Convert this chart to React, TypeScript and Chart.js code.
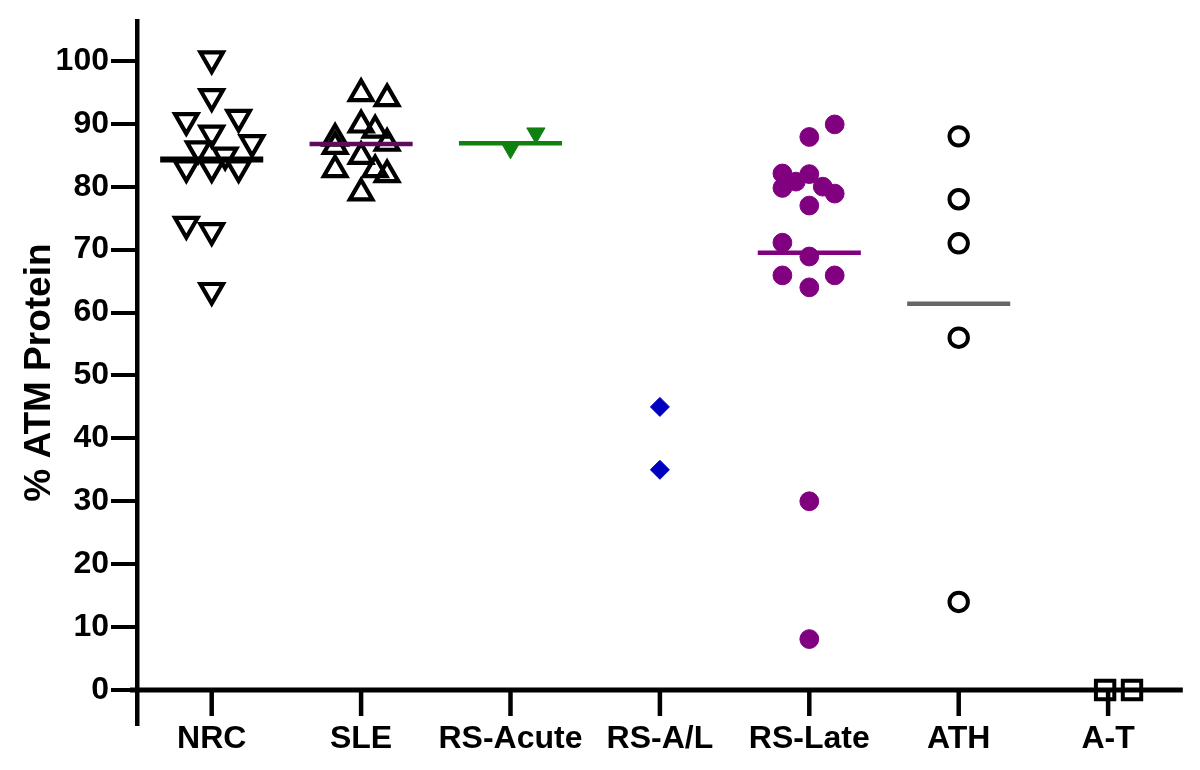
import React, { useEffect, useRef } from "react";
import { Chart, registerables } from "chart.js";

Chart.register(...registerables);

// ---- data ----
const categories = ["NRC", "SLE", "RS-Acute", "RS-A/L", "RS-Late", "ATH", "A-T"];
const yTickValues = [0, 10, 20, 30, 40, 50, 60, 70, 80, 90, 100];

const nrcValues = [100.3, 94.3, 90.5, 91, 88.5, 87, 86, 85, 83, 83, 83, 74, 73, 63.5];
const nrcJitter = [0, 0, -0.17, 0.18, 0, 0.27, -0.09, 0.09, -0.17, 0, 0.18, -0.17, 0, 0];

const sleValues = [94.8, 94.0, 89.8, 89.0, 87.7, 86.4, 86.9, 84.8, 82.7, 81.9, 82.7, 79.0];
const sleJitter = [0, 0.174, 0, 0.094, -0.174, -0.174, 0.174, 0, 0.094, 0.174, -0.174, 0];

const rsAcuteValues = [86.1, 88.5];
const rsAcuteJitter = [0, 0.17];

const rsALValues = [45, 35];
const rsALJitter = [0, 0];

const rsLateValues = [89.9, 87.9, 82.1, 82.0, 80.8, 79.8, 80.0, 78.9, 77.0, 71.1, 68.9, 65.9, 65.9, 64.0, 30.0, 8.1];
const rsLateJitter = [0.17, 0, -0.18, 0, -0.09, -0.18, 0.09, 0.17, 0, -0.18, 0, -0.18, 0.17, 0, 0, 0];

const athValues = [88, 78, 71, 56, 14];
const athJitter = [0, 0, 0, 0, 0];

const atValues = [0, 0];
const atJitter = [-0.02, 0.16];

const groupMeans = [84.3, 86.8, 86.9, null, 69.5, 61.4, null];
const meanColors = ["#000000", "#5e0b5e", "#108010", "#0000c0", "#800080", "#666666", "#000000"];

const FONT = "'Liberation Sans', Arial, Helvetica, sans-serif";

function pts(catIndex: number, values: number[], jitter: number[]) {
  return values.map((v, i) => ({ x: catIndex + 1 + jitter[i], y: v }));
}

const axesPlugin = {
  id: "prismAxes",
  beforeDatasetsDraw(chart: any) {
    const { ctx, chartArea, scales } = chart;
    const y0 = scales.y.getPixelForValue(0);
    ctx.save();
    ctx.strokeStyle = "#000";
    ctx.lineCap = "butt";
    // x axis line
    ctx.lineWidth = 5;
    ctx.beginPath();
    ctx.moveTo(chartArea.left - 7, y0);
    ctx.lineTo(chartArea.right, y0);
    ctx.stroke();
    // x tick marks
    ctx.lineWidth = 4.5;
    categories.forEach((_, i) => {
      const x = scales.x.getPixelForValue(i + 1);
      ctx.beginPath();
      ctx.moveTo(x, y0);
      ctx.lineTo(x, y0 + 26);
      ctx.stroke();
    });
    ctx.restore();
  },
};

export default function App() {
  const ref = useRef<HTMLCanvasElement | null>(null);

  useEffect(() => {
    if (!ref.current) return;

    const meanDatasets: any[] = [];
    groupMeans.forEach((m, i) => {
      if (m === null) return;
      meanDatasets.push({
        label: categories[i] + " mean",
        data: [
          { x: i + 1 - 0.345, y: m },
          { x: i + 1 + 0.345, y: m },
        ],
        showLine: true,
        borderColor: meanColors[i],
        borderWidth: i === 0 ? 6 : 4.5,
        pointRadius: 0,
        pointHoverRadius: 0,
        fill: false,
      });
    });

    const open = (color: string) => ({
      pointBorderColor: color,
      pointBackgroundColor: "rgba(0,0,0,0)",
      borderColor: color,
      backgroundColor: "rgba(0,0,0,0)",
    });

    const pointDatasets: any[] = [
      {
        label: "NRC",
        data: pts(0, nrcValues, nrcJitter),
        pointStyle: "triangle",
        pointRotation: 180,
        pointRadius: 13,
        pointHoverRadius: 13,
        pointBorderWidth: 4.2,
        ...open("#000"),
      },
      {
        label: "SLE",
        data: pts(1, sleValues, sleJitter),
        pointStyle: "triangle",
        pointRotation: 0,
        pointRadius: 13,
        pointHoverRadius: 13,
        pointBorderWidth: 4.2,
        ...open("#000"),
      },
      {
        label: "RS-Acute",
        data: pts(2, rsAcuteValues, rsAcuteJitter),
        pointStyle: "triangle",
        pointRotation: 180,
        pointRadius: 10.5,
        pointHoverRadius: 10.5,
        pointBorderWidth: 1,
        pointBorderColor: "#108010",
        pointBackgroundColor: "#108010",
      },
      {
        label: "RS-A/L",
        data: pts(3, rsALValues, rsALJitter),
        pointStyle: "rectRot",
        pointRadius: 9.5,
        pointHoverRadius: 9.5,
        pointBorderWidth: 1,
        pointBorderColor: "#0000c0",
        pointBackgroundColor: "#0000c0",
      },
      {
        label: "RS-Late",
        data: pts(4, rsLateValues, rsLateJitter),
        pointStyle: "circle",
        pointRadius: 9.4,
        pointHoverRadius: 9.4,
        pointBorderWidth: 1,
        pointBorderColor: "#800080",
        pointBackgroundColor: "#800080",
      },
      {
        label: "ATH",
        data: pts(5, athValues, athJitter),
        pointStyle: "circle",
        pointRadius: 9.2,
        pointHoverRadius: 9.2,
        pointBorderWidth: 4,
        ...open("#000"),
      },
      {
        label: "A-T",
        data: pts(6, atValues, atJitter),
        pointStyle: "rect",
        pointRadius: 13,
        pointHoverRadius: 13,
        pointBorderWidth: 4,
        ...open("#000"),
      },
    ];

    const chart = new Chart(ref.current, {
      type: "scatter",
      data: { datasets: [...meanDatasets, ...pointDatasets] },
      options: {
        animation: false,
        responsive: false,
        maintainAspectRatio: false,
        layout: { padding: { left: 0, right: 15, top: 17, bottom: 0 } },
        plugins: {
          legend: { display: false },
          tooltip: { enabled: false },
        },
        scales: {
          x: {
            type: "linear",
            position: "bottom",
            min: 0.5,
            max: 7.5,
            afterBuildTicks: (s: any) => {
              s.ticks = categories.map((_, i) => ({ value: i + 1 }));
            },
            afterFit: (s: any) => {
              s.height = 46;
            },
            ticks: {
              autoSkip: false,
              maxRotation: 0,
              minRotation: 0,
              padding: -12,
              color: "#000",
              font: { family: FONT, size: 32, weight: "bold" },
              callback: (v: any) => categories[Math.round(Number(v)) - 1] ?? "",
            },
            grid: { display: false },
            border: { display: false },
          },
          y: {
            type: "linear",
            min: -5.4,
            max: 106.3,
            afterBuildTicks: (s: any) => {
              s.ticks = yTickValues.map((v) => ({ value: v }));
            },
            afterFit: (s: any) => {
              s.width = 137;
            },
            ticks: {
              padding: 2,
              color: "#000",
              font: { family: FONT, size: 32, weight: "bold" },
              callback: (v: any) => String(v),
            },
            grid: {
              drawOnChartArea: false,
              drawTicks: true,
              tickLength: 26,
              tickWidth: 4,
              lineWidth: 4,
              color: "#000",
            },
            border: { display: true, width: 4.5, color: "#000" },
            title: {
              display: true,
              text: "% ATM Protein",
              color: "#000",
              font: { family: FONT, size: 37, weight: "bold" },
              padding: { top: 18, bottom: 0 },
            },
          },
        },
      },
      plugins: [axesPlugin],
    });

    return () => chart.destroy();
  }, []);

  return (
    <div style={{ position: "absolute", left: 0, top: 0, width: 1200, height: 770, background: "#fff" }}>
      <canvas ref={ref} width={1200} height={770} style={{ width: 1200, height: 770 }} />
    </div>
  );
}
